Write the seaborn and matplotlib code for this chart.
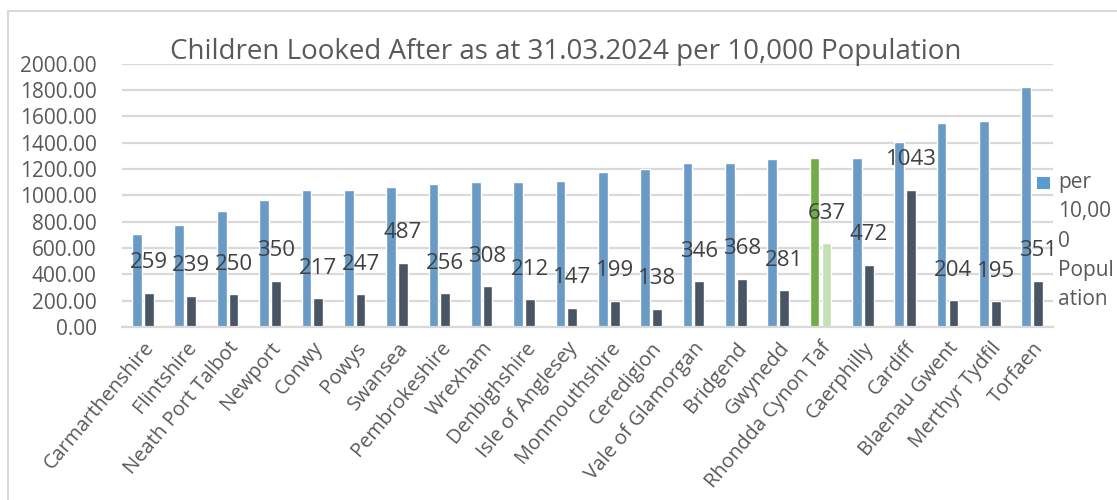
import pandas as pd
import seaborn as sns
import matplotlib.pyplot as plt
from matplotlib.patches import Rectangle

authorities = [
    "Carmarthenshire", "Flintshire", "Neath Port Talbot", "Newport", "Conwy",
    "Powys", "Swansea", "Pembrokeshire", "Wrexham", "Denbighshire",
    "Isle of Anglesey", "Monmouthshire", "Ceredigion", "Vale of Glamorgan",
    "Bridgend", "Gwynedd", "Rhondda Cynon Taf", "Caerphilly", "Cardiff",
    "Blaenau Gwent", "Merthyr Tydfil", "Torfaen",
]
per_10000 = [
    703, 772, 878, 967, 1043, 1043, 1063, 1083, 1101, 1101, 1111,
    1179, 1199, 1248, 1248, 1278, 1286, 1286, 1404, 1551, 1561, 1822,
]
children = [
    259, 239, 250, 350, 217, 247, 487, 256, 308, 212, 147,
    199, 138, 346, 368, 281, 637, 472, 1043, 204, 195, 351,
]
highlight = "Rhondda Cynon Taf"
legend_lines = ["per", "10,00", "0", "Popul", "ation"]

BLUE = "#5B9BD5"
DARK = "#44546A"
GREEN = "#70AD47"
LIGHT_GREEN = "#C5E0B4"
TEXT = "#595959"

df = pd.DataFrame({
    "Authority": authorities * 2,
    "Value": per_10000 + children,
    "Series": ["per 10,000 Population"] * len(authorities) + ["Children"] * len(authorities),
})

sns.set_theme(style="white")
plt.rcParams["font.family"] = ["Open Sans", "DejaVu Sans"]

fig = plt.figure(figsize=(11.17, 5), dpi=100)
ax = fig.add_axes([0.109, 0.346, 0.834, 0.527])

sns.barplot(data=df, x="Authority", y="Value", hue="Series", order=authorities,
            palette=[BLUE, DARK], width=0.56, gap=0.18, legend=False, ax=ax)

hi = authorities.index(highlight)
ax.containers[0][hi].set_facecolor(GREEN)
ax.containers[1][hi].set_facecolor(LIGHT_GREEN)

# count labels above the dark bars
for bar, v in zip(ax.containers[1], children):
    ax.annotate(str(v), (bar.get_x() + bar.get_width() / 2, v),
                xytext=(0, 14), textcoords="offset points",
                ha="center", va="bottom", fontsize=16, color="#404040")

ax.set_ylim(0, 2000)
ax.set_yticks(range(0, 2001, 200))
ax.set_yticklabels([f"{t:.2f}" for t in range(0, 2001, 200)], fontsize=15, color=TEXT)
ax.yaxis.grid(True, color="#D9D9D9", linewidth=1.6)
ax.set_axisbelow(True)
for s in ["left", "right", "top"]:
    ax.spines[s].set_visible(False)
ax.spines["bottom"].set_color("#D9D9D9")
ax.spines["bottom"].set_linewidth(1.6)
ax.tick_params(axis="y", length=0, pad=18)
ax.tick_params(axis="x", length=0, pad=8)
ax.set_xlabel("")
ax.set_ylabel("")
plt.setp(ax.get_xticklabels(), rotation=50, ha="right", rotation_mode="anchor",
         fontsize=14.5, color=TEXT)

fig.text(0.506, 0.897, "Children Looked After as at 31.03.2024 per 10,000 Population",
         ha="center", va="center", fontsize=20, color=TEXT)

# legend: a single blue key with the wrapped label
ax.add_patch(Rectangle((0.983, 0.525), 0.013, 0.045, transform=ax.transAxes,
                       facecolor=BLUE, edgecolor="none", clip_on=False))
for i, line in enumerate(legend_lines):
    ax.text(1.005, 0.548 - i * 0.111, line, transform=ax.transAxes,
            ha="left", va="center", fontsize=15, color=TEXT)

fig.patches.append(Rectangle((8 / 1117, -0.1), 1.2, 1 - 11 / 500 + 0.1,
                             transform=fig.transFigure, fill=False,
                             edgecolor="#D9D9D9", linewidth=1.5))

fig.savefig("out.png", dpi=100)
